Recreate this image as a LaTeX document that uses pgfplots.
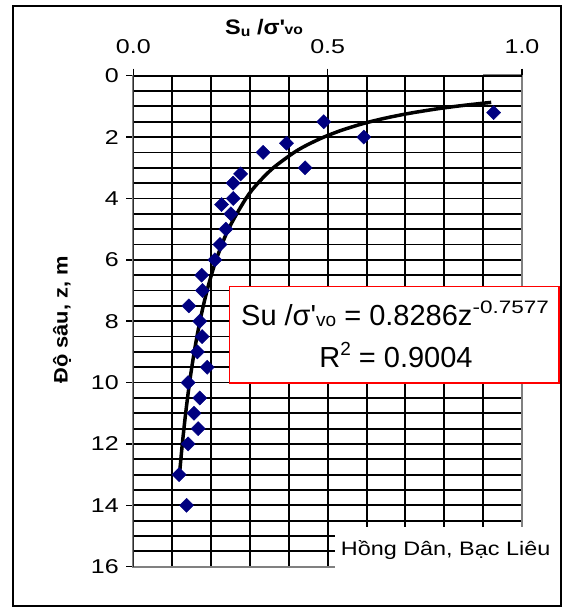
\documentclass[border=0pt]{standalone}
\usepackage{fontspec}
\setmainfont{Liberation Sans}[Ligatures=TeXOff]
\newfontfamily\wide{Liberation Sans}[FakeStretch=1.25, Ligatures=TeXOff]
\newfontfamily\lwide{Liberation Sans}[FakeStretch=1.2, Ligatures=TeXOff]
\newfontfamily\semiwide{Liberation Sans}[FakeStretch=1.12, Ligatures=TeXOff]
\usepackage{pgfplots}
\pgfplotsset{compat=1.18}
\definecolor{navy}{HTML}{000080}
\definecolor{gr}{HTML}{808080}
\begin{document}
\begin{tikzpicture}[x=1pt,y=1pt]
\path[use as bounding box] (0,0) rectangle (569,-607);
\draw[black, line width=1.5pt] (13,-6) rectangle (561,-606);
% vertical grid lines every 0.1 as one serpentine path
\draw[black, line width=2pt, line join=miter]
  (172.2,-75.7) -- (172.2,-566.7) -- (211.0,-566.7) -- (211.0,-75.7)
  -- (249.9,-75.7) -- (249.9,-566.7) -- (288.8,-566.7) -- (288.8,-75.7)
  -- (327.7,-75.7) -- (327.7,-566.7) -- (366.5,-566.7) -- (366.5,-75.7)
  -- (405.4,-75.7) -- (405.4,-566.7) -- (444.3,-566.7) -- (444.3,-75.7)
  -- (483.1,-75.7) -- (483.1,-566.7) -- (522,-566.7);
\draw[gr, line width=2.4pt] (133.3,-566.7) -- (522,-566.7) -- (522,-75.7) -- (483.1,-75.7);
\begin{axis}[
 at={(133.3pt,-75.7pt)}, anchor=north west,
 scale only axis, width=388.7pt, height=491pt,
 xmin=0, xmax=1, ymin=0, ymax=16, y dir=reverse,
 xtick={0,0.5,1},
 ytick={0,2,...,16}, minor ytick={0.5,1,...,15.5},
 ymajorgrids, yminorgrids,
 major grid style={black, line width=1.8pt},
 minor grid style={black, line width=1.8pt},
 xtick pos=right, xticklabel pos=right, ytick pos=left,
 tick align=outside, major tick length=7pt, minor tick length=0pt,
 tick style={black, line width=1.5pt},
 axis line style={gr, line width=2.2pt},
 ticklabel style={font=\wide\fontsize{20}{24}\selectfont},
 /pgf/number format/assume math mode=true,
 x tick label style={/pgf/number format/fixed, /pgf/number format/fixed zerofill, /pgf/number format/precision=1, yshift=11pt},
 y tick label style={xshift=-4pt},
]
\addplot[only marks, mark=square*, mark size=5pt, mark options={rotate=45, fill=navy, draw=navy}] coordinates {
(0.927,1.2) (0.490,1.5) (0.593,2.0) (0.394,2.2) (0.334,2.5) (0.442,3.0)
(0.276,3.2) (0.257,3.5) (0.257,4.0) (0.227,4.2) (0.251,4.5) (0.238,5.0)
(0.223,5.5) (0.210,6.0) (0.176,6.5) (0.178,7.0) (0.143,7.5) (0.171,8.0)
(0.177,8.5) (0.165,9.0) (0.190,9.5) (0.141,10.0) (0.171,10.5) (0.156,11.0)
(0.167,11.5) (0.141,12.0) (0.118,13.0) (0.137,14.0)
};
\addplot[black, line width=3.5pt, smooth, no markers] coordinates {
(0.9208,0.87) (0.8975,0.9) (0.8614,0.95) (0.8286,1.0) (0.7985,1.05) (0.7709,1.1)
(0.7217,1.2) (0.6997,1.25) (0.6601,1.35) (0.6421,1.4) (0.6094,1.5) (0.5803,1.6)
(0.5422,1.75) (0.5308,1.8) (0.4901,2.0) (0.4482,2.25) (0.4138,2.5) (0.3604,3.0)
(0.3207,3.5) (0.2898,4.0) (0.2448,5.0) (0.2132,6.0) (0.1897,7.0) (0.1714,8.0)
(0.1568,9.0) (0.1447,10.0) (0.1347,11.0) (0.1261,12.0) (0.1187,13.0)
};
\draw[black, line width=1.8pt] (axis cs:0,16) -- (axis cs:0,0) -- (axis cs:1,0);
\end{axis}
% axis titles
\node[anchor=base west, inner sep=0, font=\semiwide\bfseries\fontsize{21}{24}\selectfont] at (225,-35)
 {S\raisebox{-2pt}{\fontsize{14}{14}\selectfont u} /σ\textquotesingle\raisebox{0.5pt}{\fontsize{14}{14}\selectfont vo}};
\node[rotate=90, inner sep=0, font=\semiwide\bfseries\fontsize{19.5}{22}\selectfont] at (62,-320) {Độ sâu, z, m};
% equation box
\filldraw[fill=white, draw=red, line width=1.5pt] (229.3,-286.7) rectangle (559,-383);
\node[anchor=base, inner sep=0, font=\fontsize{29}{34}\selectfont] at (395,-325)
 {Su /σ\textquotesingle\raisebox{-1.5pt}{\fontsize{19}{19}\selectfont vo} = 0.8286z\raisebox{12pt}{\wide\fontsize{18}{18}\selectfont -0.7577}};
\node[anchor=base, inner sep=0, font=\fontsize{29}{34}\selectfont] at (396,-367)
 {R\raisebox{12pt}{\fontsize{19}{19}\selectfont 2} = 0.9004};
% location label
\fill[white] (335,-527) rectangle (559.5,-598);
\node[anchor=base west, inner sep=0, font=\lwide\fontsize{19.5}{24}\selectfont] at (340.7,-555) {Hồng Dân, Bạc Liêu};
\end{tikzpicture}
\end{document}
